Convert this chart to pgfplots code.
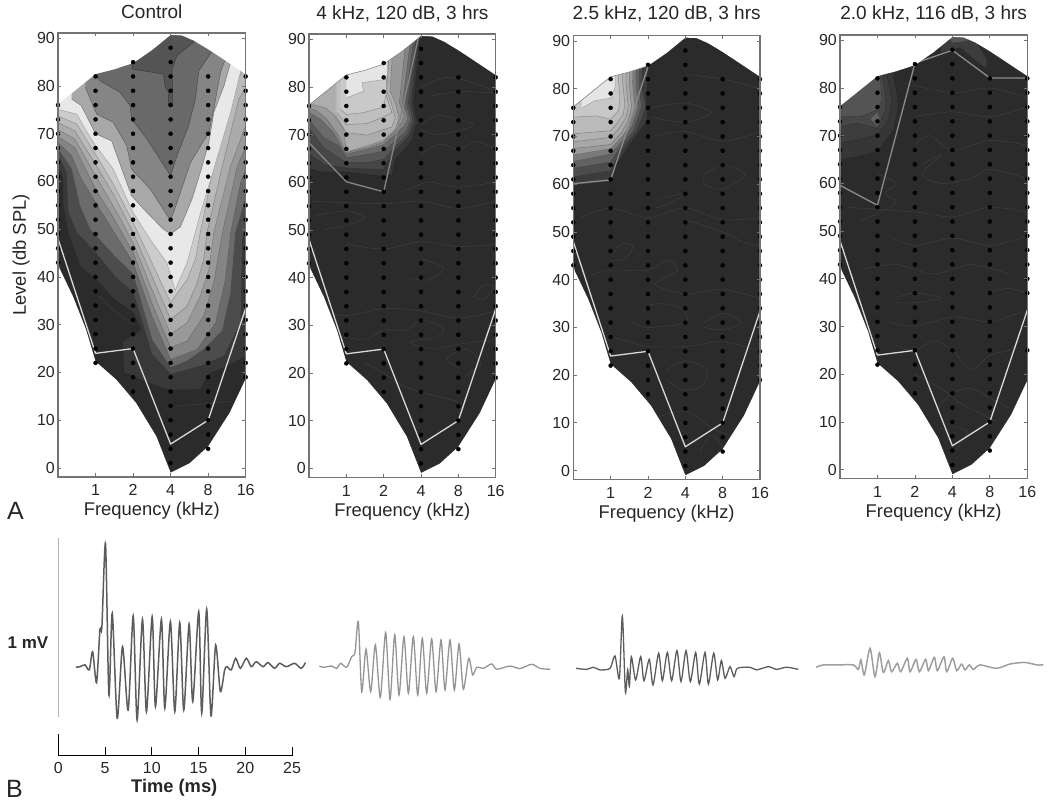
\documentclass[border=0pt]{standalone}
\usepackage{fontspec}
\setmainfont{Liberation Sans}
\usepackage{pgfplots}
\pgfplotsset{compat=1.18}
\newcommand\fs[1]{\fontsize{#1}{#1}\selectfont}
\pgfplotsset{
  panel/.style={
    scale only axis, xmin=-1, xmax=4, ymin=-1.9, ymax=91.1,
    xtick={0,1,2,3,4}, xticklabels={1,2,4,8,16}, ytick={0,10,...,90},
    /pgf/number format/assume math mode=true,
    tick align=inside, major tick length=3.5pt,
    tick style={white!45!black, line width=.8pt},
    axis line style={white!45!black, line width=1.2pt},
    axis on top, clip mode=individual,
    tick label style={font=\fs{16}, text=black!85},
    x tick label style={anchor=base, yshift=-19pt},
    y tick label style={inner sep=3pt},
    label style={font=\fs{18.4}, text=black!85},
    title style={font=\fs{19}, text=black!85, anchor=base, at={(axis description cs:0.5,1)}, yshift=8pt},
    xlabel={Frequency (kHz)},
    xlabel style={anchor=base, at={(axis description cs:0.5,0)}, yshift=-39pt},
  },
  band/.style={fill=white!#1!black, draw=white!#1!black!70!black, line width=.5pt, mark=none, forget plot},
  ctr/.style={draw=white!26!black, line width=.4pt, smooth, mark=none, forget plot},
  thr/.style={draw=white!#1!black, line width=1.3pt, mark=none, forget plot, line join=round},
  mask/.style={fill=white, draw=none, mark=none, forget plot},
  trace/.style={scale only axis, hide axis, clip=false, width=252.45pt, height=179pt, xmin=0, xmax=27, ymin=-.5, ymax=.5},
}
\newcommand\band[2]{\addplot[band=#1] coordinates {#2};}
\newcommand\ctr[1]{\addplot[ctr] coordinates {#1};}
\newcommand\masks{%
  \addplot[mask] coordinates {(-1.2,76.2) (-1,76.2) (0,82.5) (.5,83.5) (1,84.8) (1.5,87.5) (2,90.7) (2.3,90.6) (2.62,89.5) (3,87.7) (3.33,86) (4,82.5) (4.2,82.5) (4.2,95) (-1.2,95)};
  \addplot[mask] coordinates {(-1.2,43.2) (-1,43.2) (-.96,41.8) (-.6,35.9) (-.25,28.9) (0,22.3) (.55,18.5) (1.08,13.6) (1.62,6.6) (2,-1) (2.51,1) (3,4.5) (3.57,11.5) (3.99,18.5) (4.2,18.5) (4.2,-5) (-1.2,-5)};
}
\newcommand\base{\addplot[fill=white!17!black, draw=none, mark=none, forget plot] coordinates {(-1.1,95) (4.1,95) (4.1,-5) (-1.1,-5)};}
\newcommand\lowthr{\addplot[thr=85] coordinates {(-1,48) (0,24) (1,25) (2,5) (3,10) (4,33.4)};}
\newcommand\dotsmain{%
  \addplot[only marks, mark=*, mark size=2pt, black, forget plot] coordinates {
  (-1,76)(-1,73)(-1,70)(-1,67)(-1,64)(-1,61)(-1,58)(-1,55)(-1,52)(-1,49)(-1,46)(-1,43)
  (0,82)(0,79)(0,76)(0,73)(0,70)(0,67)(0,64)(0,61)(0,58)(0,55)(0,52)(0,49)(0,46)(0,43)(0,40)(0,37)(0,34)(0,31)(0,28)(0,25)(0,22)
  (1,85)(1,82)(1,79)(1,76)(1,73)(1,70)(1,67)(1,64)(1,61)(1,58)(1,55)(1,52)(1,49)(1,46)(1,43)(1,40)(1,37)(1,34)(1,31)(1,28)(1,25)(1,22)(1,19)(1,16)
  (2,88)(2,85)(2,82)(2,79)(2,76)(2,73)(2,70)(2,67)(2,64)(2,61)(2,58)(2,55)(2,52)(2,49)(2,46)(2,43)(2,40)(2,37)(2,34)(2,31)(2,28)(2,25)(2,22)(2,19)(2,16)(2,13)(2,10)(2,7)(2,4)(2,1)(2,-2)
  (3,82)(3,79)(3,76)(3,73)(3,70)(3,67)(3,64)(3,61)(3,58)(3,55)(3,52)(3,49)(3,46)(3,43)(3,40)(3,37)(3,34)(3,31)(3,28)(3,25)(3,22)(3,19)(3,16)(3,13)(3,10)(3,7)(3,4)
  (4,82)(4,79)(4,76)(4,73)(4,70)(4,67)(4,64)(4,61)(4,58)(4,55)(4,52)(4,49)(4,46)(4,43)(4,40)(4,37)};
}
\newcommand\dotsright{%
  \addplot[only marks, mark=*, mark size=2pt, black, forget plot] coordinates {(4,34)(4,31)(4,28)(4,25)(4,22)(4,19)};
}
\begin{document}
\begin{tikzpicture}
\useasboundingbox (0,0) rectangle (1050pt,804pt);

% ---------- Panel 1
\begin{axis}[panel, at={(58pt,327pt)}, width=187.7pt, height=444pt, title={Control},
  ylabel={Level (db SPL)}, ylabel style={anchor=base, at={(axis description cs:0,0.5)}, yshift=32pt}]
\base
\band{22}{(-1.1,65.4) (-.87,60.5) (-.87,54.9) (-.73,49.3) (-.42,42.3) (0,39.5) (.5,35.3) (1,32.5) (1.2,29) (.72,26.5) (.75,20) (1,19.2) (1.72,16.8) (2,16.3) (2.79,16.4) (3.02,19.6) (3.69,22) (4.1,23.8) (4.1,95) (-1.1,95)}
\band{30}{(-1.1,67.1) (-.78,61.9) (-.73,53.5) (-.5,49.3) (0,45.1) (.5,40.2) (1,36.7) (1.5,23.8) (2,19.6) (2.79,21.3) (3.42,23.4) (3.87,30.4) (3.91,47.9) (4.1,52.1) (4.1,95) (-1.1,95)}
\band{42}{(-1.1,68) (-.64,62.6) (-.42,54.9) (-.15,50) (.5,44.4) (1,40.6) (1.5,26.9) (2,21) (2.44,22.4) (2.88,24.8) (3.38,28.7) (3.6,36.7) (3.73,49.3) (4.1,59.1) (4.1,95) (-1.1,95)}
\band{52}{(-1.1,68.9) (-.64,65.4) (-.38,60.5) (0,55.6) (.5,49.3) (1,43) (1.5,31.8) (2,22.7) (2.71,24.8) (3.2,30.4) (3.46,39.5) (3.6,49.3) (3.87,59.8) (4.1,64.7) (4.1,95) (-1.1,95)}
\band{60}{(-1.1,69.9) (-.55,67.1) (0,58.4) (.5,52.1) (1,45.1) (1.5,34.6) (2,25.2) (2.44,26.6) (2.88,31.8) (3.15,38.8) (3.38,49.3) (3.78,63.3) (4.1,68.9) (4.1,95) (-1.1,95)}
\band{67}{(-1.1,71.3) (-.55,68.9) (0,61.2) (.5,54.5) (1,47.2) (1.5,37.4) (2,28) (2.44,30.4) (2.79,36) (3.02,41.6) (3.15,49.3) (3.6,63.3) (4.1,73.8) (4.1,95) (-1.1,95)}
\band{73}{(-1.1,72.7) (-.55,70.6) (0,63.6) (.5,57) (1,49.3) (1.5,40.2) (2,31.1) (2.44,33.9) (2.71,38.8) (2.88,43.7) (2.97,49.3) (3.38,63.3) (3.82,77.3) (4.1,81) (4.1,95) (-1.1,95)}
\band{80}{(-1.1,74.1) (-.5,72) (0,65.7) (.5,59.1) (1,51.4) (1.5,43) (2,34.6) (2.44,39.5) (2.66,43.7) (2.79,49.3) (3.15,63.3) (3.69,79.4) (3.91,83.2) (3.91,95) (-1.1,95)}
\band{91}{(-1.1,75) (-.95,75) (-.5,74.1) (-.2,70) (0,67.5) (.47,62.6) (1,53.5) (1.45,47.9) (1.9,43) (2.12,37.2) (2.44,43) (2.8,53.5) (3.15,62.6) (3.6,74.5) (3.87,83.2) (3.87,95) (-1.1,95)}
\band{66}{(-.64,77.3) (-.38,75.9) (0,70) (.43,68.5) (.7,62.6) (.96,57) (1.37,53.5) (1.81,50) (2,49) (2.26,50.5) (2.57,56.3) (2.79,61.9) (3.02,68.2) (3.15,74.5) (3.42,80) (3.6,85) (3.6,95) (-.64,95)}
\band{52}{(-.27,79.7) (.03,74.1) (.47,72.4) (.83,67.5) (.96,62.6) (1.46,58.4) (1.95,52.4) (2,52.1) (2.08,53.5) (2.53,64) (3.02,70.3) (3.15,75.2) (3.33,82.9) (3.46,85.7) (3.46,95) (-.27,95)}
\band{41}{(-.02,82.5) (.12,81.1) (.65,78.7) (.92,75.9) (.96,73.1) (1.37,68.9) (2,61.2) (2.17,65.4) (2.48,71.7) (2.66,77.3) (2.75,83.2) (3.15,87.8) (3.15,95) (-.02,95)}
\band{33}{(1.01,85) (.96,83.6) (1.81,82.5) (1.86,79.7) (1.95,78.7) (1.95,75.9) (2.05,75.9) (2.04,83.6) (2.17,86.4) (2.62,89.2) (2.62,95) (1.01,95)}
\ctr{(.1,36)(.5,33)(1,30)}
\ctr{(2.2,13)(3,13.5)(3.6,14)}
\ctr{(.5,12)(.9,16)}
\lowthr
\masks
\dotsmain \dotsright
\end{axis}

% ---------- Panel 2
\begin{axis}[panel, at={(309pt,326.7pt)}, width=186.7pt, height=443.3pt, title={4 kHz, 120 dB, 3 hrs}, title style={yshift=1pt}]
\base
\band{22}{(-1.05,63) (-.65,62.1) (0,62.1) (.91,61.3) (1.22,61.4) (1.31,64.8) (1.75,68.6) (1.9,72.5) (1.8,76.7) (1.97,90) (1.97,95) (-1.05,95)}
\band{28}{(-1.05,66.2) (-.6,63.7) (0,63) (.46,62.8) (1,62.7) (1.26,66.2) (1.69,69.7) (1.84,72.8) (1.73,76.7) (1.93,90) (1.93,95) (-1.05,95)}
\band{34}{(-1.05,71.8) (-.6,67.2) (0,64.1) (.55,64.1) (1,64.8) (1.31,67.4) (1.64,70) (1.78,73) (1.66,76.7) (1.87,90) (1.87,95) (-1.05,95)}
\band{42}{(-1.05,73.5) (-.6,69.3) (-.2,67.6) (0,65.1) (.55,65.8) (1,66.5) (1.31,68.6) (1.6,70.7) (1.72,73.2) (1.59,76.7) (1.8,90) (1.8,95) (-1.05,95)}
\band{52}{(-1.05,74.9) (-.69,73.2) (-.34,70.4) (-.12,67.2) (0,65.9) (.55,66.9) (1,67.9) (1.31,70) (1.55,71.8) (1.65,73.5) (1.51,76.7) (1.71,89.3) (1.71,95) (-1.05,95)}
\band{60}{(-1.05,75.8) (-.78,74.9) (-.52,73.2) (-.2,69.7) (-.03,66.2) (.55,67.2) (1,68.4) (1.31,70.7) (1.48,72.5) (1.55,73.9) (1.42,76.7) (1.57,87.9) (1.57,95) (-1.05,95)}
\band{68}{(-.92,76.3) (-.56,75.6) (-.34,74.2) (-.07,71.1) (0,66.3) (.55,67.6) (1,68.8) (1.31,71.1) (1.41,73.5) (1.31,76.7) (1.17,79.1) (1.22,85.1) (1.22,95) (-.92,95)}
\band{72}{(-.29,74.2) (0,70.4) (.55,69.9) (1.22,71.6) (1.31,73.5) (1.2,76.7) (1.08,79.1) (1.13,85.1) (1.13,95) (-.29,95)}
\band{75}{(-.25,74.6) (0,72.1) (.55,72.3) (1,73.7) (1.22,74.6) (1.13,76.7) (1.04,79.1) (1.1,85.1) (1.1,95) (-.25,95)}
\band{79}{(-.16,75.3) (0,74.2) (.46,74.6) (1,75.8) (1.07,78.8) (1.08,85.1) (1.08,95) (-.16,95)}
\band{90}{(0,77.7) (.46,79.1) (.42,80.9) (1.08,81.6) (1.11,85.1) (1.11,95) (0,95)}
\ctr{(-.7,33)(0,32)(1,33.5)(2,33)(3,31.5)(4,33)}
\ctr{(-.4,28)(.5,27)(1,29)(1.6,29)(2,31)(2.6,29.5)(2.4,27.5)(1.7,26.5)(2.3,25)(3,26)(4,27)}
\ctr{(.5,22)(1,20)(1.6,17)(2.5,15)(3,14)}
\ctr{(2,44)(2.6,42)(2.2,39.5)(1.6,40)}
\ctr{(0,47)(1,46)(2,47.5)(3,46.5)(4,47)}
\ctr{(-.8,53)(0,54)(.5,52.5)(0,51)(-.6,50)}
\ctr{(-.9,56)(1,55.5)(2,56)(3,54.5)(4,56)}
\ctr{(1.5,58)(2.2,60)(3,59)(4,60)}
\ctr{(2,66)(2.5,68)(3,67)(3.5,68.5)(4,67)}
\ctr{(2,72)(2.5,74)(3.4,72)(2.5,70)(2,71)}
\ctr{(2,80)(2.8,82)(4,79)(3,79)(2.2,78)}
\ctr{(3.4,36)(3.7,38.5)(3.95,38)(3.7,35.5)(3.4,36)}
\ctr{(3,21)(2.7,23)(3.2,25)(3.6,22)(3.2,19.5)}
\addplot[thr=52] coordinates {(-1,68.3) (0,60.1) (1,58) (1.95,91)};
\lowthr
\masks
\addplot[draw=white!50!black, line width=.6pt, mark=none, forget plot] coordinates {(-1,76.2) (0,82.5) (.5,83.5) (1,84.8) (1.5,87.5) (2,90.7)};
\dotsmain \dotsright
\end{axis}

% ---------- Panel 3
\begin{axis}[panel, at={(573.3pt,324.3pt)}, width=186.7pt, height=444pt, title={2.5 kHz, 120 dB, 3 hrs}, title style={yshift=1.7pt}]
\base
\band{23}{(-1.09,59.7) (0,60.5) (.16,64.2) (.52,68.4) (.98,73.3) (.96,78.2) (1.01,84.4) (1.01,95) (-1.09,95)}
\band{30}{(-1.09,61.4) (0,62.8) (.25,66.7) (.7,71.2) (.95,76.1) (.83,80.3) (.88,90) (.88,95) (-1.09,95)}
\band{38}{(-1.09,63.2) (0,64.6) (.29,68.1) (.61,71.2) (.83,76.1) (.77,80.3) (.79,90) (.79,95) (-1.09,95)}
\band{48}{(-1.09,64.6) (0,66.3) (.32,69.1) (.56,71.9) (.74,76.1) (.68,81) (.7,90) (.7,95) (-1.09,95)}
\band{60}{(-1.09,66) (0,67.4) (.34,70.2) (.52,72.6) (.65,76.1) (.59,81) (.61,90) (.61,95) (-1.09,95)}
\band{66}{(-1.09,67.4) (0,68.3) (.29,70.8) (.47,73.3) (.56,76.1) (.5,81) (.52,90) (.52,95) (-1.09,95)}
\band{70}{(-1.09,68.8) (0,69.8) (.21,71.5) (.41,74) (.47,76.1) (.41,81.6) (.43,90) (.43,95) (-1.09,95)}
\band{73}{(-1.09,70.5) (0,71.2) (.16,72.6) (.34,74.7) (.38,76.8) (.32,81.6) (.34,90) (.34,95) (-1.09,95)}
\band{78}{(-1.09,74) (-.38,74.3) (0,73.6) (.21,75.4) (.25,78.2) (.21,81.6) (.25,90) (.25,95) (-1.09,95)}
\band{90}{(-.78,75.9) (-.42,77.5) (0,78) (.12,80.3) (.12,90) (.12,95) (-.78,95)}
\ctr{(0,45)(.3,47.5)(.6,47)(.4,44.5)(0,44)}
\ctr{(-.5,41)(0,42)(1,42)(1.5,44)(1.8,42)(1.2,39)(2,37)(3,38)(4,36)}
\ctr{(.8,33)(1.2,35)(1.9,34)(2,31)(1,30)(.6,31)}
\ctr{(2.5,31)(3,33)(3.5,31)(3,29.5)(2.5,30)}
\ctr{(0,28)(.5,27)(1,26)(2,26)(3,27)(4,25)}
\ctr{(1.5,21)(2,23)(2.6,21)(2.4,17.5)(1.9,17)(1.5,19)}
\ctr{(1.2,11)(2,12.5)(2.7,9)(3.3,7)}
\ctr{(2.4,4)(2.7,7.5)(3,5)}
\ctr{(2,52.5)(3,50)(3.5,48)(4,47)}
\ctr{(1.3,57)(2,58)(1.6,56)(1.2,55)}
\ctr{(2.5,62)(3,64)(3.6,62)(3,59)(2.5,60)(2.5,62)}
\ctr{(1.1,70)(2,71)(3,69)(4,71)}
\ctr{(1.1,76)(2,77)(2.7,75)(2,73)(1.1,74)}
\ctr{(2,83)(3,82)(4,80)}
\ctr{(-.8,53)(0,55)(1,53)(2,55)(3,52.5)(4,53)}
\addplot[thr=55] coordinates {(-1,60.1) (0,60.9) (1,84.6)};
\lowthr
\masks
\addplot[draw=white!50!black, line width=.6pt, mark=none, forget plot] coordinates {(-1,76.2) (0,82.5) (.5,83.5) (1,84.8)};
\dotsmain \dotsright
\end{axis}

% ---------- Panel 4
\begin{axis}[panel, at={(840pt,325.3pt)}, width=187.3pt, height=443.7pt, title={2.0 kHz, 116 dB, 3 hrs}, title style={yshift=1pt}]
\base
\band{21}{(-1.05,64.9) (-.54,65.6) (0,66.6) (.44,71.2) (.57,76.8) (.44,82.4) (.57,87.3) (.57,95) (-1.05,95)}
\band{24}{(-1.05,68.4) (-.54,69.1) (0,70.1) (.3,73.3) (.39,77.5) (.26,82.4) (.3,90) (.3,95) (-1.05,95)}
\band{28}{(-1.05,71.9) (-.54,72.6) (0,71.5) (.21,75.4) (.21,78.9) (.12,83.1) (.12,90) (.12,95) (-1.05,95)}
\band{33}{(-1.05,74) (-.45,74) (0,75.4) (.12,77.5) (.08,81.7) (.08,84.5) (.08,95) (-1.05,95)}
\band{38}{(-.2,73.5) (0,75) (.08,73) (0,71.8) (-.2,73.5)}
\band{24}{(1.7,90) (2,92) (2.48,92) (2.92,86) (2.92,84) (2.48,86.6) (2.21,88.4) (2,88) (1.7,87.5)}
\band{34}{(1.8,92) (2,92) (2.3,92) (2.45,90) (2.15,89.5) (2,89.5)}
\ctr{(0,62)(.5,60)(.2,58)(.5,56)(.1,54)(-.5,52)}
\ctr{(1,68)(1.4,70)(2,67)(3,69)(4,68)}
\ctr{(1.2,64)(1.7,66)(1.2,62)(1.7,60)(2.5,61)(3,63)(4,61)}
\ctr{(1,74)(2,75)(3,74)(4,76)}
\ctr{(.7,81)(2,79)(3,80)(4,78)}
\ctr{(-.8,55)(1,54)(2,53)(3,55)(4,54)}
\ctr{(.3,49)(1,47)(2,48.5)(3,47)(4,49)}
\ctr{(-.4,42)(.5,43)(1.5,41)(2.5,43)(3.5,41)}
\ctr{(.5,36)(1,37)(1.7,36)(1,35)(.5,35)}
\ctr{(2.9,37)(3.5,38)(4,37)}
\ctr{(.3,31)(1,30)(2,32)(3,31)(3.8,33)}
\ctr{(.5,26)(1,25)(1.5,27)(2,25)(2.5,21)(3,24)(3.5,25)(3.8,27)}
\ctr{(1,20)(1.7,17)(2.2,14)(2.7,12)(3.2,10)}
\ctr{(1.6,13)(2,16)(2.5,17)(3,15)(3.5,13)}
\ctr{(2,9)(2.4,8)(2.1,4)}
\addplot[thr=55] coordinates {(-1,59.6) (0,55.4) (1,85.2) (2,87.9) (3,82.1) (4,82.1)};
\lowthr
\masks
\dotsmain
\addplot[only marks, mark=*, mark size=2pt, black, forget plot] coordinates {(4,25)};
\end{axis}

% ---------- B: trace 1 with time axis and scale bar
\begin{axis}[scale only axis, clip=false, at={(58.3pt,48.3pt)}, width=233.75pt, height=221.7pt,
  xmin=0, xmax=25, ymin=-.501, ymax=.737, axis x line=bottom, axis y line=none,
  xtick={0,5,...,25}, tick align=inside, major tick length=9pt,
  /pgf/number format/assume math mode=true,
  x axis line style={-, black, line width=.9pt}, tick style={black, line width=.9pt},
  tick label style={font=\fs{16}, text=black!85},
  x tick label style={anchor=base, yshift=-17.5pt},
  xlabel={\bfseries Time (ms)},
  xlabel style={font=\fs{18.3}, text=black!85, anchor=base, at={(axis cs:12.4,-.501)}, yshift=-37pt}]
\addplot[white!70!black, line width=1pt, mark=none] coordinates {(0,-.285) (0,.715)};
\addplot[black, line width=.9pt, mark=none] coordinates {(0,-.501) (0,-.38)};
\addplot[white!36!black, line width=1.5pt, smooth, tension=.45, mark=none] coordinates {
(1.89,-.007)(2.31,-.004)(2.85,.006)(3.31,-.022)(3.67,.08)(4.09,-.093)(4.45,.201)(4.66,.216)(5.05,.682)(5.41,-.162)(5.77,.294)(6.3,-.292)(6.87,.108)(7.47,-.246)(8.01,.279)(8.43,-.302)(9,.261)(9.43,-.255)(10.04,.276)(10.39,-.227)(11.03,.261)(11.39,-.236)(11.99,.248)(12.46,-.255)(12.99,.242)(13.42,-.246)(13.99,.235)(14.38,-.199)(15.02,.304)(15.34,-.264)(15.87,.317)(16.33,-.279)(16.83,.117)(17.33,-.143)(17.79,-.022)(18.04,-.004)(18.5,-.022)(18.97,.043)(19.47,-.013)(20.11,.043)(20.64,-.004)(21.17,.024)(21.89,-.004)(22.42,.019)(23.13,-.013)(23.67,.015)(24.38,-.004)(25.27,.015)(25.98,-.013)(26.44,.019)};
\node[font=\fs{17}, text=black!85] at (axis cs:-3.24,.128) {\bfseries 1 mV};
\end{axis}

% trace 2
\begin{axis}[trace, at={(310pt,47.2pt)}]
\addplot[white!58!black, line width=1.3pt, smooth, tension=.45, mark=none] coordinates {
(1,.007)(1.43,0)(2.32,.007)(2.85,-.006)(3.28,.022)(3.92,0)(4.46,.06)(4.81,.082)(5.17,.255)(5.53,-.136)(5.99,.101)(6.49,-.136)(6.99,.125)(7.52,-.168)(8.09,.194)(8.56,-.179)(9.06,.181)(9.52,-.155)(10.05,.171)(10.52,-.145)(11.05,.171)(11.52,-.155)(12.01,.162)(12.48,-.145)(13.01,.158)(13.48,-.136)(14.01,.153)(14.44,-.127)(14.97,.153)(15.44,-.127)(15.94,.13)(16.4,-.123)(16.97,.05)(17.4,-.043)(17.83,0)(18.54,-.006)(19.43,.019)(19.96,-.011)(21.39,.007)(22.46,-.007)(23.71,.017)(24.6,-.006)(25.67,-.011)};
\end{axis}
% trace 3
\begin{axis}[trace, at={(570pt,46.2pt)}]
\addplot[white!36!black, line width=1.3pt, smooth, tension=.45, mark=none] coordinates {
(.64,0)(1.78,-.006)(2.5,.006)(3.21,-.009)(4.28,0)(4.81,.069)(5.28,-.056)(5.6,.292)(5.92,-.13)(6.17,-.009)(6.35,-.102)(6.56,.065)(7.02,-.065)(7.56,.065)(7.91,-.069)(8.48,.05)(8.88,-.093)(9.48,.084)(9.88,-.069)(10.41,.088)(10.87,-.069)(11.44,.099)(11.87,-.074)(12.41,.099)(12.87,-.074)(13.44,.088)(13.83,-.088)(14.44,.089)(14.8,-.088)(15.37,.084)(15.79,-.065)(16.19,.043)(16.58,-.056)(17.11,.009)(17.54,-.047)(17.9,0)(19.25,.006)(19.96,-.009)(21.21,.009)(22.1,-.006)(23.17,.006)(24.42,-.006)};
\end{axis}
% trace 4
\begin{axis}[trace, at={(810pt,48.5pt)}]
\addplot[white!62!black, line width=1.5pt, smooth, tension=.45, mark=none] coordinates {
(.64,-.007)(1.43,.006)(2.85,.006)(4.63,.006)(5.17,-.019)(5.45,.034)(5.81,-.05)(6.42,.099)(6.95,-.06)(7.42,.074)(7.84,-.037)(8.38,.03)(8.73,-.032)(9.34,.015)(9.7,-.032)(10.41,.043)(10.7,-.032)(11.34,.037)(11.69,-.032)(12.37,.037)(12.66,-.026)(13.3,.048)(13.62,-.026)(14.33,.052)(14.62,-.032)(15.26,.043)(15.69,-.026)(16.22,.011)(16.58,-.022)(17.04,.006)(17.47,-.019)(18.18,.006)(19.96,-.013)(21.39,.011)(22.82,.02)(23.53,.015)(24.24,.006)(24.96,.006)};
\end{axis}

\node[font=\fs{25}, text=black!85, anchor=base west, inner sep=0pt] at (7pt,284pt) {A};
\node[font=\fs{25}, text=black!85, anchor=base west, inner sep=0pt] at (6pt,7pt) {B};
\end{tikzpicture}
\end{document}
